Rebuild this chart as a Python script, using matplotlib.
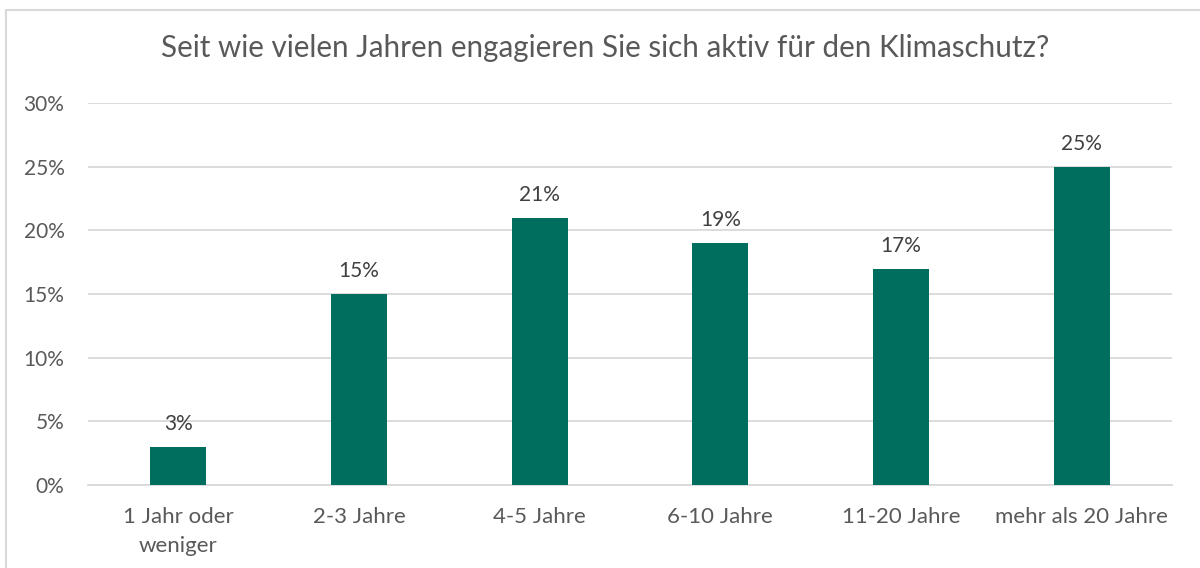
import matplotlib.pyplot as plt
from matplotlib.patches import Rectangle

plt.rcParams['font.family'] = ['Lato', 'DejaVu Sans']

kategorien = ['1 Jahr oder\nweniger', '2-3 Jahre', '4-5 Jahre', '6-10 Jahre',
              '11-20 Jahre', 'mehr als 20 Jahre']
anteile = [3, 15, 21, 19, 17, 25]
y_ticks = [0, 5, 10, 15, 20, 25, 30]
titel = 'Seit wie vielen Jahren engagieren Sie sich aktiv für den Klimaschutz?'

grau = '#595959'
linie = '#D9D9D9'
gruen = '#006E5F'

fig = plt.figure(figsize=(12, 5.68), dpi=100)
ax = fig.add_axes([88 / 1200, 1 - 485 / 568, 1084 / 1200, 382 / 568])

x = range(len(kategorien))
bars = ax.bar(x, anteile, width=0.31, color=gruen, zorder=3)
for b, v in zip(bars, anteile):
    ax.text(b.get_x() + b.get_width() / 2, v + 1.0, f'{v}%', ha='center',
            va='bottom', fontsize=15, color='#404040')

ax.set_xlim(-0.5, len(kategorien) - 0.5)
ax.set_ylim(0, 30)
ax.set_yticks(y_ticks)
ax.set_yticklabels([f'{t}%' for t in y_ticks])
ax.set_xticks(list(x))
ax.set_xticklabels(kategorien, linespacing=1.55, fontsize=16)
ax.tick_params(axis='both', length=0, labelcolor=grau)
ax.tick_params(axis='y', labelsize=15, pad=17)
ax.tick_params(axis='x', pad=16)
ax.grid(axis='y', color=linie, linewidth=1.3, zorder=0)
for s in ['top', 'right', 'left']:
    ax.spines[s].set_visible(False)
ax.spines['bottom'].set_color(linie)
ax.spines['bottom'].set_linewidth(1.3)

fig.text(605 / 1200, 1 - 48 / 568, titel, ha='center', va='center',
         fontsize=21.3, color=grau)

fig.patches.append(Rectangle((6 / 1200, -0.1), 1.1, 1.1 - 10 / 568,
                             transform=fig.transFigure, fill=False,
                             edgecolor=linie, linewidth=1.5))

fig.savefig('out.png', dpi=100, facecolor='white')
